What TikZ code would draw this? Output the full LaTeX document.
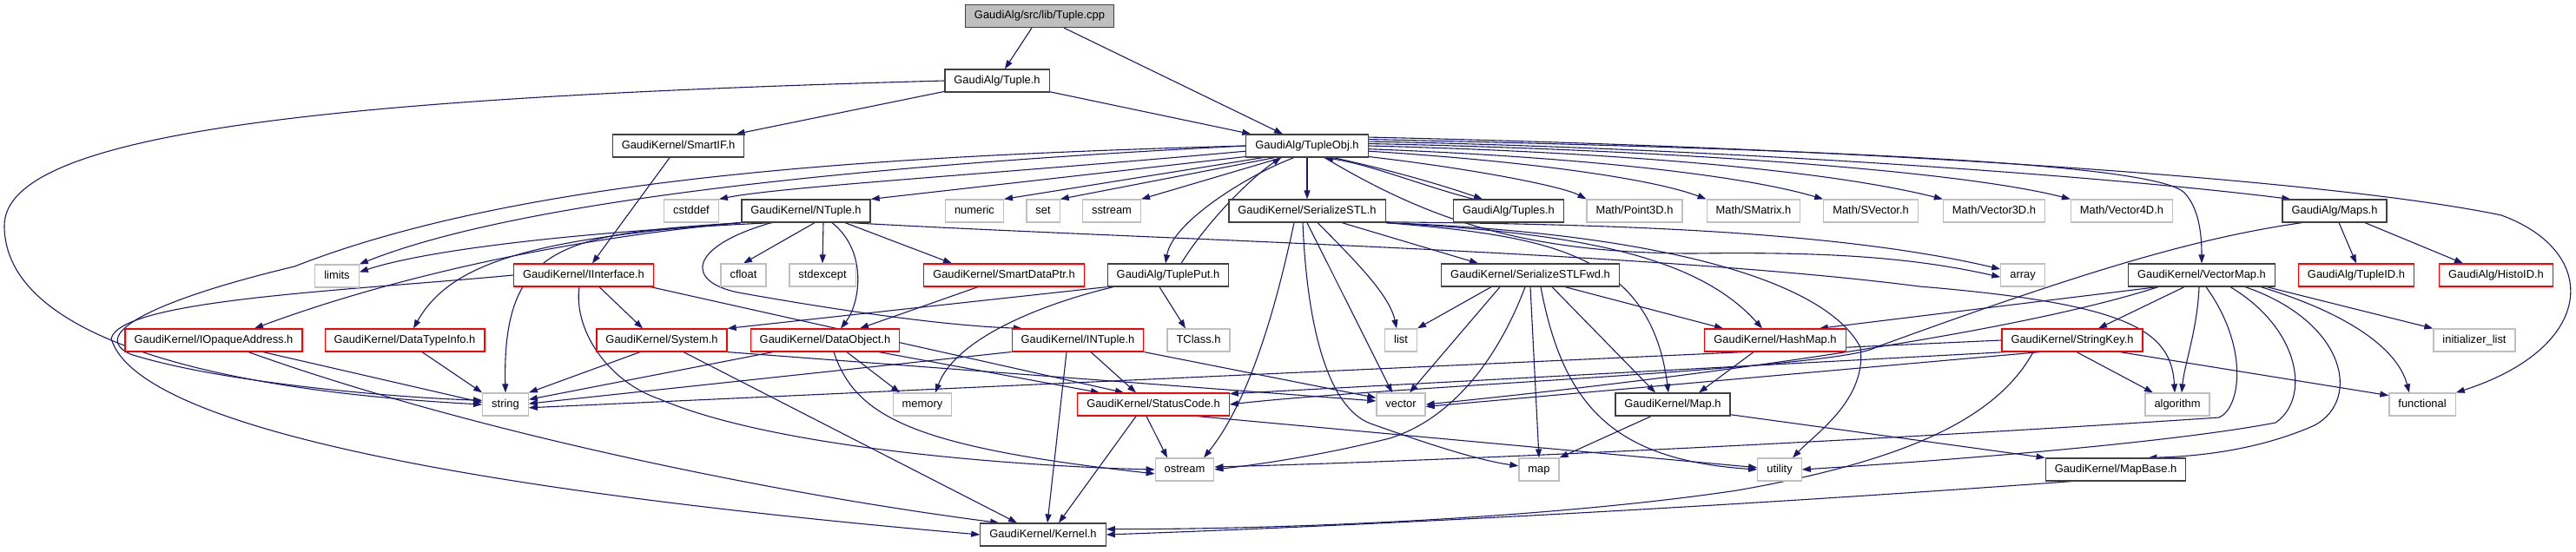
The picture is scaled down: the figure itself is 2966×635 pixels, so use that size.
\documentclass[tikz,border=0pt]{standalone}
\usepackage{fontspec}
\setmainfont{Liberation Sans}
\usetikzlibrary{arrows.meta}
\definecolor{edgeblue}{RGB}{25,25,112}
\definecolor{boxdark}{RGB}{64,64,64}
\definecolor{boxgray}{RGB}{191,191,191}
\definecolor{boxred}{RGB}{255,0,0}
\definecolor{rootfill}{RGB}{191,191,191}
\pgfdeclarelayer{edgelayer}
\pgfsetlayers{edgelayer,main}
\begin{document}
\begin{tikzpicture}[x=1pt,y=-1pt,
  box/.style={draw, line width=1.2pt, fill=white, minimum height=26pt, inner xsep=10.5pt, inner ysep=0pt,
    text height=9.3pt, text depth=2.7pt, font=\fontsize{12.9}{15}\selectfont},
  docbox/.style={box, draw=boxdark},
  extbox/.style={box, draw=boxgray},
  incbox/.style={box, draw=boxred},
  rootbox/.style={box, draw=boxdark, fill=rootfill},
  conn/.style={draw=edgeblue, line width=1.1pt, -{Triangle[length=10pt,width=7pt]}}]
\begin{pgfonlayer}{edgelayer}
\fill[white] (0,0) rectangle (2966,635);
\end{pgfonlayer}
\useasboundingbox (0,0) rectangle (2966,635);

% nodes
\node[rootbox] (cpp) at (1197,18.5) {GaudiAlg/src/lib/Tuple.cpp};
\node[docbox] (tupleh) at (1148,93) {GaudiAlg/Tuple.h};
\node[docbox] (smartif) at (781,168) {GaudiKernel/SmartIF.h};
\node[docbox] (tupleobj) at (1505,168) {GaudiAlg/TupleObj.h};

\node[extbox] (nlimits) at (388,318) {limits};
\node[incbox] (iinterface) at (672,317) {GaudiKernel/IInterface.h};
\node[extbox] (ncstddef) at (796,243) {cstddef};
\node[docbox] (ntuple) at (928,243) {GaudiKernel/NTuple.h};
\node[extbox] (nnumeric) at (1122,243) {numeric};
\node[extbox] (nset) at (1201,243) {set};
\node[extbox] (nsstream) at (1280,243) {sstream};
\node[docbox] (serstl) at (1505,243) {GaudiKernel/SerializeSTL.h};
\node[docbox] (tuples) at (1737,243) {GaudiAlg/Tuples.h};
\node[extbox] (point3d) at (1882,243) {Math/Point3D.h};
\node[extbox] (smatrix) at (2019,243) {Math/SMatrix.h};
\node[extbox] (svector) at (2154,243) {Math/SVector.h};
\node[extbox] (vector3d) at (2296,243) {Math/Vector3D.h};
\node[extbox] (vector4d) at (2443,243) {Math/Vector4D.h};
\node[docbox] (maps) at (2688,243) {GaudiAlg/Maps.h};

\node[extbox] (ncfloat) at (856,317) {cfloat};
\node[extbox] (nstdexcept) at (947,317) {stdexcept};
\node[incbox] (smartdataptr) at (1156,317) {GaudiKernel/SmartDataPtr.h};
\node[docbox] (tupleput) at (1345,317) {GaudiAlg/TuplePut.h};
\node[docbox] (serfwd) at (1762,317) {GaudiKernel/SerializeSTLFwd.h};
\node[extbox] (narray) at (2329,317) {array};
\node[docbox] (vectormap) at (2535,317) {GaudiKernel/VectorMap.h};
\node[incbox] (tupleid) at (2713,317) {GaudiAlg/TupleID.h};
\node[incbox] (histoid) at (2874,317) {GaudiAlg/HistoID.h};

\node[incbox] (iopaque) at (246,392) {GaudiKernel/IOpaqueAddress.h};
\node[incbox] (datatypeinfo) at (466,392) {GaudiKernel/DataTypeInfo.h};
\node[incbox] (system) at (762,392) {GaudiKernel/System.h};
\node[incbox] (dataobject) at (950,392) {GaudiKernel/DataObject.h};
\node[incbox] (intuple) at (1241,392) {GaudiKernel/INTuple.h};
\node[extbox] (tclass) at (1380,392) {TClass.h};
\node[extbox] (nlist) at (1613,392) {list};
\node[incbox] (hashmap) at (2044,392) {GaudiKernel/HashMap.h};
\node[incbox] (stringkey) at (2386,392) {GaudiKernel/StringKey.h};
\node[extbox] (initlist) at (2849,392) {initializer\_list};

\node[extbox] (nstring) at (582,466) {string};
\node[extbox] (nmemory) at (1062,466) {memory};
\node[incbox] (statuscode) at (1328,466) {GaudiKernel/StatusCode.h};
\node[extbox] (nvector) at (1613,466) {vector};
\node[docbox] (maph) at (1926,466) {GaudiKernel/Map.h};
\node[extbox] (nalgorithm) at (2507,466) {algorithm};
\node[extbox] (nfunctional) at (2789,466) {functional};

\node[extbox] (nostream) at (1364,541) {ostream};
\node[extbox] (nmap) at (1772,541) {map};
\node[extbox] (nutility) at (2049,541) {utility};
\node[docbox] (mapbase) at (2436,541) {GaudiKernel/MapBase.h};
\node[docbox] (kernel) at (1201,616) {GaudiKernel/Kernel.h};

\begin{pgfonlayer}{edgelayer}
\path[conn] (cpp) -- (tupleh);
\path[conn] (cpp) -- (tupleobj);
\path[conn] (tupleh) -- (smartif);
\path[conn] (tupleh) -- (tupleobj);
\path[conn] (tupleh.west) .. controls (400,112) and (5,150) .. (5,260) .. controls (5,390) and (250,450) .. (nstring.west);
\path[conn] (smartif) -- (iinterface);

% TupleObj
\path[conn] (tupleobj.west) .. controls (1000,190) and (600,230) .. (nlimits.north east);
\path[conn] (tupleobj.185) .. controls (1150,200) and (900,215) .. (ncstddef.north east);
\path[conn] (tupleobj.west) .. controls (1000,180) and (600,205) .. (339,307) .. controls (180,345) and (100,385) .. (150,408) .. controls (250,440) and (450,458) .. (nstring.170);
\path[conn] (tupleobj.190) -- (ntuple.north east);
\path[conn] (tupleobj.195) -- (nnumeric.north east);
\path[conn] (tupleobj.200) -- (nset.north east);
\path[conn] (tupleobj.205) -- (nsstream.north east);
\path[conn] (tupleobj.south) -- (serstl.north);
\path[conn] ([xshift=30pt]tupleobj.south) .. controls (1620,200) and (1680,220) .. ([xshift=-30pt]tuples.north);
\path[conn] ([xshift=-40pt]tuples.north) .. controls (1640,215) and (1580,190) .. ([xshift=20pt]tupleobj.south);
\path[conn] ([xshift=-15pt]tupleobj.south) .. controls (1440,200) and (1350,255) .. ([xshift=-3pt]tupleput.north);
\path[conn] ([xshift=15pt]tupleput.north) .. controls (1390,255) and (1440,205) .. ([xshift=-30pt]tupleobj.south);
\path[conn] (tupleobj.-10) .. controls (1700,195) and (1800,215) .. (point3d.north west);
\path[conn] (tupleobj.-5) .. controls (1750,185) and (1900,205) .. (smatrix.north west);
\path[conn] (tupleobj.-3) .. controls (1800,180) and (2000,200) .. (svector.north west);
\path[conn] (tupleobj.0) .. controls (1850,175) and (2100,195) .. (vector3d.north west);
\path[conn] (tupleobj.2) .. controls (1900,172) and (2250,195) .. (vector4d.north west);
\path[conn] (tupleobj.4) .. controls (1950,170) and (2400,200) .. (maps.165);
\path[conn] (tupleobj.6) .. controls (2100,172) and (2480,188) .. (2515,222) .. controls (2532,240) and (2535,270) .. (vectormap.north);
\path[conn] (tupleobj.8) .. controls (2200,172) and (2700,210) .. (2880,248) .. controls (2995,290) and (2990,400) .. (nfunctional.north east);
\path[conn] ([xshift=20pt]tupleobj.south) .. controls (1640,250) and (1750,292) .. (1950,292) .. controls (2100,290) and (2200,296) .. (narray.185);

% NTuple
\path[conn] (ntuple.200) .. controls (700,265) and (500,285) .. (nlimits.10);
\path[conn] (ntuple.south west) .. controls (650,275) and (450,320) .. ([xshift=47pt]iopaque.north);
\path[conn] (ntuple.south west) .. controls (620,275) and (520,300) .. ([xshift=10pt]datatypeinfo.north);
\path[conn] (ntuple.south west) .. controls (650,270) and (578,280) .. (nstring.north);
\path[conn] ([xshift=10pt]ntuple.south) -- (ncfloat.north);
\path[conn] ([xshift=20pt]ntuple.south) -- (nstdexcept.north);
\path[conn] ([xshift=30pt]ntuple.south) .. controls (1000,290) and (990,350) .. ([xshift=18pt]dataobject.north);
\path[conn] ([xshift=45pt]ntuple.south) -- ([xshift=-60pt]smartdataptr.north);
\path[conn] ([xshift=-40pt]ntuple.south) .. controls (790,285) and (790,325) .. (850,337) .. controls (950,355) and (1080,375) .. (intuple.168);
\path[conn] (ntuple.-15) .. controls (1300,275) and (1900,290) .. (2210,330) .. controls (2450,350) and (2500,380) .. ([xshift=-3pt]nalgorithm.north);

% IInterface
\path[conn] ([xshift=18pt]iinterface.south) -- ([xshift=-22pt]system.north);
\path[conn] (iinterface.-10) -- ([xshift=-34pt]statuscode.north);
\path[conn] ([xshift=-5pt]iinterface.south) .. controls (660,380) and (700,440) .. (760,460) .. controls (900,520) and (1200,538) .. (nostream.west);
\path[conn] (iinterface.west) .. controls (400,335) and (140,345) .. (128,390) .. controls (160,500) and (600,570) .. (kernel.west);

% IOpaqueAddress, DataTypeInfo
\path[conn] ([xshift=57pt]iopaque.south) -- (nstring.175);
\path[conn] ([xshift=40pt]iopaque.south) .. controls (550,500) and (900,570) .. (kernel.165);
\path[conn] ([xshift=20pt]datatypeinfo.south) -- (nstring.north west);

% System
\path[conn] ([xshift=-25pt]system.south) -- (nstring.north east);
\path[conn] ([xshift=25pt]system.south) -- ([xshift=-30pt]kernel.north);
\path[conn] (system.south east) -- (nvector.172);

% DataObject
\path[conn] ([xshift=-60pt]dataobject.south) -- (nstring.12);
\path[conn] ([xshift=25pt]dataobject.south) -- ([xshift=-26pt]nmemory.north);
\path[conn] ([xshift=10pt]dataobject.south) .. controls (985,480) and (1050,515) .. (nostream.188);
\path[conn] ([xshift=62pt]dataobject.south) -- ([xshift=-62pt]statuscode.north);
\path[conn] ([xshift=-30pt]smartdataptr.south) -- ([xshift=40pt]dataobject.north);

% TuplePut
\path[conn] (tupleput.south west) -- (system.north east);
\path[conn] ([xshift=-63pt]tupleput.south) .. controls (1200,350) and (1100,390) .. ([xshift=15pt]nmemory.north);
\path[conn] ([xshift=-10pt]tupleput.south) -- ([xshift=-15pt]tclass.north);

% INTuple
\path[conn] (intuple.190) -- (nstring.2);
\path[conn] ([xshift=15pt]intuple.south) -- ([xshift=-20pt]statuscode.north);
\path[conn] ([xshift=-13pt]intuple.south) -- ([xshift=5pt]kernel.north);
\path[conn] (intuple.south east) -- (nvector.165);

% StatusCode
\path[conn] ([xshift=-8pt]statuscode.south) -- ([xshift=-20pt]nostream.north);
\path[conn] ([xshift=-20pt]statuscode.south) -- ([xshift=18pt]kernel.north);
\path[conn] (statuscode.-15) -- (nutility.175);

% SerializeSTL
\path[conn] ([xshift=-15pt]serstl.south) .. controls (1470,350) and (1440,460) .. ([xshift=22pt]nostream.north);
\path[conn] ([xshift=-5pt]serstl.south) .. controls (1505,380) and (1530,470) .. (1578,488) .. controls (1640,510) and (1700,530) .. (nmap.170);
\path[conn] (serstl.south) -- ([xshift=-10pt]nvector.north);
\path[conn] ([xshift=12pt]serstl.south) .. controls (1560,300) and (1600,340) .. ([xshift=-5pt]nlist.north);
\path[conn] ([xshift=40pt]serstl.south) -- ([xshift=-60pt]serfwd.north);
\path[conn] (serstl.south east) .. controls (1780,272) and (1900,290) .. ([xshift=-5pt]maph.north);
\path[conn] (serstl.south east) .. controls (1800,268) and (1950,290) .. ([xshift=-15pt]hashmap.north);
\path[conn] (serstl.south east) .. controls (1900,268) and (2100,320) .. (2142,400) .. controls (2150,460) and (2090,500) .. ([xshift=15pt]nutility.north);
\path[conn] (serstl.-8) .. controls (1800,258) and (2100,262) .. (narray.165);

% SerializeSTLFwd
\path[conn] ([xshift=-45pt]serfwd.south) -- (nlist.north east);
\path[conn] ([xshift=-35pt]serfwd.south) -- ([xshift=10pt]nvector.north);
\path[conn] ([xshift=-6pt]serfwd.south) .. controls (1730,400) and (1680,480) .. (1600,505) .. controls (1520,525) and (1450,535) .. (nostream.east);
\path[conn] (serfwd.south) -- (nmap.north);
\path[conn] ([xshift=12pt]serfwd.south) .. controls (1800,470) and (1860,530) .. (nutility.west);
\path[conn] ([xshift=25pt]serfwd.south) -- ([xshift=-20pt]maph.north);
\path[conn] ([xshift=40pt]serfwd.south) -- ([xshift=-60pt]hashmap.north);

% HashMap, Map, MapBase
\path[conn] ([xshift=-25pt]hashmap.south) -- ([xshift=30pt]maph.north);
\path[conn] ([xshift=-25pt]maph.south) -- (nmap.north east);
\path[conn] (maph.-10) -- (mapbase.north west);
\path[conn] (mapbase.195) .. controls (1900,590) and (1500,608) .. (kernel.east);

% Maps
\path[conn] ([xshift=5pt]maps.south) -- (tupleid.north);
\path[conn] ([xshift=35pt]maps.south) -- ([xshift=-38pt]histoid.north);
\path[conn] (maps.200) .. controls (2520,275) and (2380,320) .. (2160,400) .. controls (2120,425) and (1600,445) .. (statuscode.east);

% VectorMap
\path[conn] (vectormap.195) -- (hashmap.15);
\path[conn] ([xshift=-50pt]vectormap.south) .. controls (2300,390) and (1900,440) .. (nvector.east);
\path[conn] ([xshift=-20pt]vectormap.south) -- ([xshift=30pt]stringkey.north);
\path[conn] ([xshift=-3pt]vectormap.south) .. controls (2530,380) and (2515,420) .. ([xshift=5pt]nalgorithm.north);
\path[conn] ([xshift=5pt]vectormap.south) .. controls (2590,400) and (2580,470) .. (2555,481) .. controls (2200,505) and (1700,530) .. (nostream.5);
\path[conn] ([xshift=33pt]vectormap.south) .. controls (2650,380) and (2660,460) .. (2620,487) .. controls (2500,510) and (2250,530) .. (nutility.east);
\path[conn] ([xshift=50pt]vectormap.south) .. controls (2700,370) and (2720,460) .. (2665,490) .. controls (2620,510) and (2560,525) .. (mapbase.20);
\path[conn] ([xshift=68pt]vectormap.south) .. controls (2700,360) and (2760,400) .. ([xshift=-15pt]nfunctional.north);
\path[conn] ([xshift=75pt]vectormap.south) -- (initlist.north west);

% StringKey
\path[conn] ([xshift=5pt]stringkey.south) -- ([xshift=-28pt]nalgorithm.north);
\path[conn] ([xshift=55pt]stringkey.south) -- (nfunctional.165);
\path[conn] (stringkey.west) -- (nstring.-8);
\path[conn] (stringkey.190) -- (statuscode.8);
\path[conn] (stringkey.200) -- (nvector.-5);
\path[conn] ([xshift=-45pt]stringkey.south) .. controls (2300,480) and (2200,530) .. (2000,565) .. controls (1800,595) and (1500,610) .. (kernel.5);
\end{pgfonlayer}
\end{tikzpicture}
\end{document}
